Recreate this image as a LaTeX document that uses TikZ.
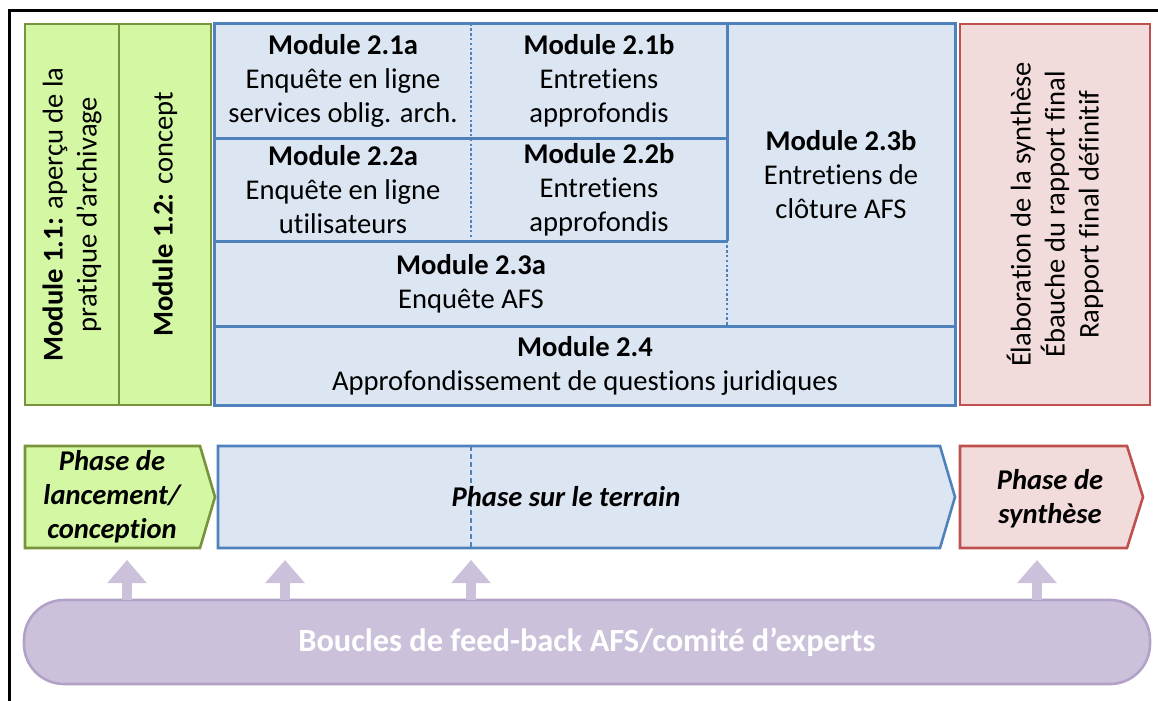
\documentclass[tikz,border=0pt]{standalone}
\usepackage{fontspec}
\setmainfont{Carlito}[Ligatures=NoCommon]
\usetikzlibrary{arrows.meta,calc}
\definecolor{gfill}{HTML}{D4F7A3}
\definecolor{gline}{HTML}{77933C}
\definecolor{bfill}{HTML}{DCE6F2}
\definecolor{bline}{HTML}{4F81BD}
\definecolor{rfill}{HTML}{F2DCDB}
\definecolor{rline}{HTML}{C0504D}
\definecolor{lfill}{HTML}{CCC1DA}
\definecolor{lline}{HTML}{B3A2C7}
\begin{document}
\begin{tikzpicture}[x=0.5pt,y=-0.5pt,
  font=\fontsize{14.3}{17}\selectfont,
  gbox/.style={rectangle, draw=gline, fill=gfill, line width=1.3pt, inner sep=0pt, align=center, rotate=90},
  rbox/.style={rectangle, draw=rline, fill=rfill, line width=1.3pt, inner sep=0pt, align=center, rotate=90},
  bcell/.style={rectangle, fill=bfill, inner sep=0pt, align=center},
  solidsep/.style={draw=bline, line width=1.3pt},
  dotsep/.style={draw=bline, line width=1pt, dash pattern=on 1.2pt off 1.2pt},
  phasetxt/.style={align=center, font=\fontsize{14.3}{17}\selectfont\bfseries\itshape},
  fbbox/.style={rectangle, rounded corners=20pt, draw=lline, fill=lfill, line width=1.3pt, text=white, font=\fontsize{16.2}{19}\selectfont\bfseries},
  fbarrow/.style={draw=lfill, line width=5pt, -{Triangle[width=19pt,length=11.5pt]}},
]
\useasboundingbox (0,0) rectangle (1158,701);
\draw[line width=1.5pt] (9,701) -- (9,11) -- (1158,11);

% green modules
\node[gbox, minimum width=190.5pt, minimum height=47pt] (m11) at (72,214.5)
  {\textbf{Module 1.1:} aperçu de la\\pratique d’archivage};
\node[gbox, minimum width=190.5pt, minimum height=46pt] (m12) at (165,214.5)
  {\textbf{Module 1.2:} concept};

% blue cells
\node[bcell, minimum width=128pt, minimum height=57pt] (m21a) at (343,81)
  {\textbf{Module 2.1a}\\Enquête en ligne\\services oblig. arch.};
\node[bcell, minimum width=128pt, minimum height=57pt] (m21b) at (599,81)
  {\textbf{Module 2.1b}\\Entretiens\\approfondis};
\node[bcell, minimum width=128pt, minimum height=51.5pt] (m22a) at (343,189.5)
  {\textbf{Module 2.2a}\\Enquête en ligne\\utilisateurs};
\node[bcell, minimum width=128pt, minimum height=51.5pt] (m22b) at (599,189.5)
  {\textbf{Module 2.2b}\\Entretiens\\approfondis};
\node[bcell, minimum width=256pt, minimum height=42.5pt] (m23a) at (471,283.5)
  {\textbf{Module 2.3a}\\Enquête AFS};
\node[bcell, minimum width=114pt, minimum height=151pt] (m23b) at (841,175)
  {\textbf{Module 2.3b}\\Entretiens de\\clôture AFS};
\node[bcell, minimum width=370pt, minimum height=39.5pt] (m24) at (585,365.5)
  {\textbf{Module 2.4}\\Approfondissement de questions juridiques};

% separators
\draw[solidsep] (m21a.north west) rectangle (m24.south east);
\draw[solidsep] (m21a.south west) -- (m21b.south east);
\draw[solidsep] (m22a.south west) -- (m22b.south east);
\draw[solidsep] (m23a.south west) -- (m23b.south east);
\draw[solidsep] (m21b.north east) -- (m22b.south east);
\draw[dotsep] (m21a.north east) -- (m22a.south east);
\draw[dotsep] (m23a.north east) -- (m23a.south east);

% red synthesis box
\node[rbox, minimum width=190.5pt, minimum height=95pt] (syn) at (1055,214.5)
  {Élaboration de la synthèse\\Ébauche du rapport final\\Rapport final définitif};

% phase chevrons
\path[draw=gline, fill=gfill, line width=1.3pt] (25,446) -- (200,446) -- (215,497) -- (200,548) -- (25,548) -- cycle;
\path[draw=bline, fill=bfill, line width=1.3pt] (218,446) -- (940,446) -- (955,497) -- (940,548) -- (218,548) -- cycle;
\path[draw=rline, fill=rfill, line width=1.3pt] (960,446) -- (1127,446) -- (1143,497) -- (1127,548) -- (960,548) -- cycle;
\draw[draw=bline, line width=1pt, dash pattern=on 2.5pt off 1.5pt] (471,446) -- (471,548);

\node[phasetxt] (p1) at (112,497) {Phase de\\lancement/\\conception};
\node[phasetxt] (p2) at (566,497) {Phase sur le terrain};
\node[phasetxt] (p3) at (1050,499) {Phase de\\synthèse};

% feedback loop
\node[fbbox, minimum width=563pt, minimum height=42pt] (fb) at (587,642)
  {Boucles de feed-back AFS/comité d’experts};

\coordinate (t1) at (127,560);
\coordinate (t2) at (285,560);
\coordinate (t3) at (471,560);
\coordinate (t4) at (1037,560);
\foreach \t in {t1,t2,t3,t4}
  \draw[fbarrow] ($(\t |- fb.north)+(0,1)$) -- (\t);
\end{tikzpicture}
\end{document}
